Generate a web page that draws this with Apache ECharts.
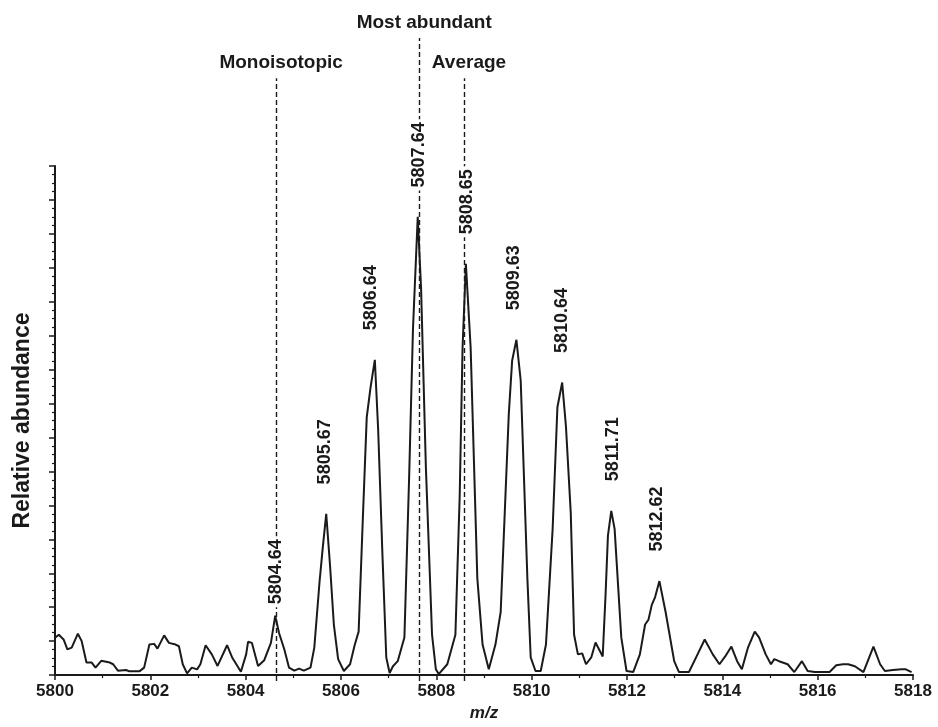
<!DOCTYPE html>
<html>
<head>
<meta charset="utf-8">
<script src="https://cdn.jsdelivr.net/npm/echarts@6/dist/echarts.min.js"></script>
<style>
  html, body { margin: 0; padding: 0; background: #fff; }
  #main { width: 938px; height: 727px; }
</style>
</head>
<body>
<div id="main"></div>
<script>
// spectrum trace, m/z and relative abundance
var mz = [
  5800.00, 5800.08, 5800.18, 5800.26, 5800.35, 5800.39, 5800.48, 5800.56, 5800.66, 5800.77,
  5800.85, 5800.97, 5801.15, 5801.22, 5801.32, 5801.49, 5801.56, 5801.77, 5801.87, 5801.98,
  5802.08, 5802.15, 5802.29, 5802.39, 5802.53, 5802.60, 5802.68, 5802.77, 5802.87, 5802.98,
  5803.05, 5803.16, 5803.29, 5803.41, 5803.61, 5803.72, 5803.90, 5804.01, 5804.05, 5804.13,
  5804.26, 5804.39, 5804.53, 5804.62, 5804.70, 5804.81, 5804.91, 5805.02, 5805.12, 5805.22,
  5805.36, 5805.44, 5805.55, 5805.62, 5805.69, 5805.77, 5805.85, 5805.94, 5806.06, 5806.19,
  5806.29, 5806.37, 5806.46, 5806.54, 5806.62, 5806.71, 5806.78, 5806.87, 5806.95, 5807.02,
  5807.09, 5807.19, 5807.33, 5807.43, 5807.51, 5807.61, 5807.68, 5807.78, 5807.91, 5807.99,
  5808.05, 5808.23, 5808.40, 5808.49, 5808.55, 5808.62, 5808.72, 5808.86, 5808.97, 5809.10,
  5809.24, 5809.35, 5809.52, 5809.59, 5809.68, 5809.77, 5809.91, 5809.98, 5810.08, 5810.19,
  5810.30, 5810.44, 5810.54, 5810.64, 5810.72, 5810.82, 5810.89, 5810.97, 5811.06, 5811.14,
  5811.25, 5811.34, 5811.49, 5811.55, 5811.60, 5811.67, 5811.74, 5811.88, 5811.99, 5812.13,
  5812.27, 5812.38, 5812.45, 5812.52, 5812.59, 5812.68, 5812.81, 5812.99, 5813.09, 5813.30,
  5813.48, 5813.63, 5813.80, 5813.94, 5814.06, 5814.19, 5814.31, 5814.41, 5814.54, 5814.68,
  5814.77, 5814.91, 5815.02, 5815.09, 5815.19, 5815.37, 5815.51, 5815.67, 5815.79, 5815.94,
  5816.25, 5816.39, 5816.53, 5816.64, 5816.78, 5816.96, 5817.17, 5817.31, 5817.41, 5817.58,
  5817.76, 5817.85, 5817.97
];
var abundance = [
  1.10, 1.19, 1.05, 0.76, 0.81, 0.76, 1.22, 1.00, 0.37, 0.37,
  0.22, 0.42, 0.37, 0.32, 0.13, 0.15, 0.11, 0.11, 0.22, 0.90,
  0.92, 0.78, 1.17, 0.95, 0.90, 0.85, 0.32, 0.05, 0.22, 0.17,
  0.32, 0.88, 0.61, 0.27, 0.88, 0.51, 0.10, 0.61, 0.98, 0.95,
  0.27, 0.44, 0.95, 1.75, 1.24, 0.76, 0.22, 0.13, 0.19, 0.13,
  0.22, 0.81, 2.75, 3.79, 4.75, 3.23, 1.49, 0.47, 0.12, 0.32,
  0.90, 1.28, 4.69, 7.60, 8.48, 9.29, 7.22, 3.52, 0.52, 0.06,
  0.26, 0.41, 1.11, 5.86, 10.2, 13.5, 11.4, 6.15, 1.19, 0.17,
  0.03, 0.32, 1.19, 5.27, 9.64, 12.12, 9.64, 2.85, 0.90, 0.17,
  0.90, 1.86, 7.69, 9.26, 9.88, 8.68, 2.85, 0.52, 0.12, 0.12,
  0.90, 4.31, 7.89, 8.62, 7.31, 4.78, 1.19, 0.61, 0.64, 0.32,
  0.52, 0.96, 0.55, 2.36, 4.11, 4.84, 4.31, 1.11, 0.12, 0.09,
  0.61, 1.49, 1.63, 2.07, 2.30, 2.77, 1.86, 0.41, 0.09, 0.09,
  0.61, 1.05, 0.61, 0.32, 0.55, 0.84, 0.41, 0.17, 0.82, 1.28,
  1.11, 0.61, 0.32, 0.47, 0.41, 0.32, 0.09, 0.41, 0.12, 0.09,
  0.09, 0.29, 0.32, 0.32, 0.26, 0.09, 0.84, 0.32, 0.12, 0.15,
  0.17, 0.17, 0.09
];

// labelled peaks
var peakLabels = ['5804.64', '5805.67', '5806.64', '5807.64', '5808.65', '5809.63', '5810.64', '5811.71', '5812.62'];
var peakHeights = [1.75, 4.75, 9.29, 13.5, 12.12, 9.88, 8.62, 4.84, 2.77];

// reference mass markers
var markerNames = ['Monoisotopic', 'Most abundant', 'Average'];
var markerMz = [5804.64, 5807.64, 5808.58];
var markerTop = [17.56, 18.73, 17.56];

var xTicks = { min: 5800, max: 5818, interval: 2 };
var yMax = 15;

var font = 'Liberation Sans, Arial, sans-serif';
var ink = '#1a1a1a';

var trace = mz.map(function (m, i) { return [m, abundance[i]]; });

var peaks = peakLabels.map(function (t, i) {
  var item = { value: [parseFloat(t), peakHeights[i]], name: t };
  if (i === 0) item.label = { distance: 8 };
  return item;
});

var markLines = markerNames.map(function (n, i) {
  return [
    { coord: [markerMz[i], 0] },
    { coord: [markerMz[i], markerTop[i]], name: n }
  ];
});

var chart = echarts.init(document.getElementById('main'), null, { renderer: 'canvas' });

var option = {
  backgroundColor: '#ffffff',
  animation: false,
  textStyle: { fontFamily: font },
  grid: [
    { left: 55, right: 25, top: 166, bottom: 46 },
    { left: 55, right: 25, top: 38, bottom: 46 }
  ],
  xAxis: [{
    gridIndex: 0,
    type: 'value',
    min: xTicks.min,
    max: xTicks.max,
    interval: xTicks.interval,
    name: 'm/z',
    nameLocation: 'middle',
    nameGap: 27,
    nameTextStyle: { fontStyle: 'italic', fontWeight: 'bold', fontSize: 17, color: ink },
    axisLine: { lineStyle: { color: ink, width: 2 } },
    axisTick: { length: 5, lineStyle: { color: ink, width: 1.5 } },
    minorTick: { show: true, splitNumber: 2, length: 3, lineStyle: { color: ink, width: 1.2 } },
    splitLine: { show: false },
    axisLabel: { fontSize: 17, fontWeight: 'bold', color: ink, margin: 8,
      formatter: function (v) { return String(v); } }
  }, {
    gridIndex: 1,
    type: 'value',
    min: xTicks.min,
    max: xTicks.max,
    show: false
  }],
  yAxis: [{
    gridIndex: 0,
    type: 'value',
    min: 0,
    max: yMax,
    interval: 1,
    name: 'Relative abundance',
    nameLocation: 'middle',
    nameGap: 21,
    nameTextStyle: { fontWeight: 'bold', fontSize: 23, color: ink },
    axisLine: { show: true, lineStyle: { color: ink, width: 2 } },
    axisTick: { show: true, length: 6, lineStyle: { color: ink, width: 1.5 } },
    minorTick: { show: true, splitNumber: 4, length: 3, lineStyle: { color: ink, width: 1.2 } },
    splitLine: { show: false },
    axisLabel: { show: false }
  }, {
    gridIndex: 1,
    type: 'value',
    min: 0,
    max: 18.73,
    show: false
  }],
  series: [{
    // dashed marker lines reach above the plot, so they live on the taller grid
    type: 'line',
    xAxisIndex: 1,
    yAxisIndex: 1,
    data: [],
    silent: true,
    markLine: {
      symbol: ['none', 'none'],
      silent: true,
      lineStyle: { color: ink, type: [5, 3], width: 1.4 },
      label: {
        show: true,
        position: 'end',
        distance: 6,
        offset: [5, 0],
        formatter: '{b}',
        fontSize: 19,
        fontWeight: 'bold',
        color: ink,
        fontFamily: font
      },
      data: markLines
    },
    z: 1
  }, {
    name: 'spectrum',
    type: 'line',
    data: trace,
    symbol: 'none',
    smooth: false,
    lineStyle: { color: ink, width: 2 },
    z: 3
  }, {
    name: 'peaks',
    type: 'scatter',
    data: peaks,
    symbolSize: 1,
    itemStyle: { opacity: 0 },
    silent: true,
    zlevel: 2,
    label: {
      show: true,
      position: 'top',
      distance: 26,
      rotate: 90,
      align: 'left',
      verticalAlign: 'middle',
      formatter: '{b}',
      fontSize: 18,
      fontWeight: 'bold',
      color: ink,
      opacity: 1,
      backgroundColor: '#ffffff',
      padding: [0, 3],
      fontFamily: font
    },
    z: 4
  }]
};

chart.setOption(option);
</script>
</body>
</html>
